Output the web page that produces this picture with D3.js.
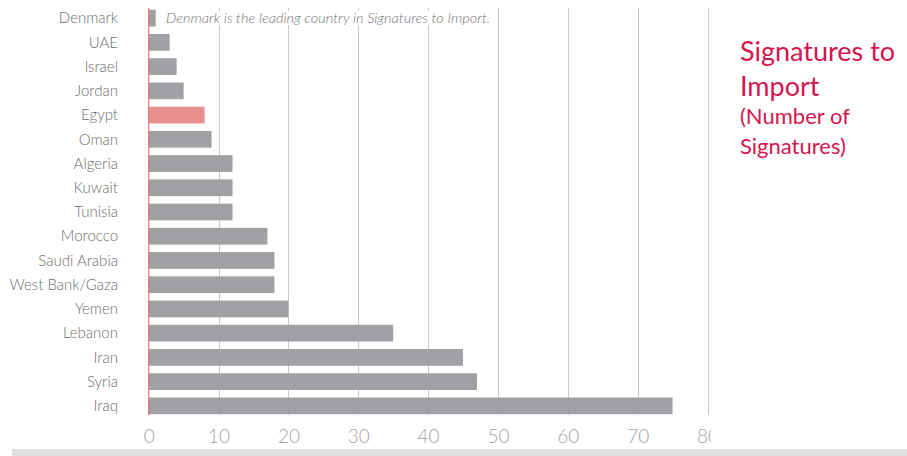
<!DOCTYPE html>
<html><head><meta charset="utf-8">
<script src="https://cdn.jsdelivr.net/npm/d3@7"></script>
<style>
html,body{margin:0;padding:0;background:#fff;}
svg{display:block;font-family:Lato,"Open Sans",sans-serif;}
</style></head>
<body>
<svg id="chart" width="907" height="456"></svg>
<script>
const categories = ["Denmark","UAE","Israel","Jordan","Egypt","Oman","Algeria","Kuwait","Tunisia","Morocco","Saudi Arabia","West Bank/Gaza","Yemen","Lebanon","Iran","Syria","Iraq"];
const values = [1,3,4,5,8,9,12,12,12,17,18,18,20,35,45,47,75];
const highlight = ["Egypt"];
const tickValues = [0,10,20,30,40,50,60,70,80];
const titleLines = ["Signatures to","Import"];
const subtitleLines = ["(Number of","Signatures)"];
const note = "Denmark is the leading country in Signatures to Import.";

const svg = d3.select("#chart");
const x = d3.scaleLinear().domain([0,80]).range([148.7,707.5]);
const y = d3.scaleBand().domain(categories).range([5.9,418.1]).paddingInner(0.31).paddingOuter(0.16);

// bottom band
svg.append("rect").attr("x",12).attr("y",449).attr("width",895).attr("height",7).attr("fill","#dfe0e1");

const clip = svg.append("defs").append("clipPath").attr("id","c");
clip.append("rect").attr("x",0).attr("y",0).attr("width",711).attr("height",456);
const g = svg.append("g").attr("clip-path","url(#c)");

// grid
g.selectAll("line.grid").data(tickValues.filter(d=>d>0)).join("line")
 .attr("x1",d=>Math.round(x(d))+0.5).attr("x2",d=>Math.round(x(d))+0.5)
 .attr("y1",8).attr("y2",415).attr("stroke","#c8c9cb").attr("stroke-width",1);

// bars
g.selectAll("rect.bar").data(categories).join("rect")
 .attr("x",x(0)).attr("y",d=>y(d)).attr("height",y.bandwidth())
 .attr("width",(d,i)=>x(values[i])-x(0))
 .attr("fill",d=>highlight.includes(d)?"#e8908d":"#a0a1a5");

// note background + text
const ny = y("Denmark")+y.bandwidth()/2;
g.append("rect").attr("x",162).attr("y",ny-7).attr("width",336).attr("height",14).attr("fill","#fff");
g.append("text").attr("x",166).attr("y",ny).attr("dy","0.35em")
 .attr("font-size",14.5).attr("font-style","italic").attr("font-weight",300).attr("fill","#737477").text(note);

// zero line
g.append("line").attr("x1",x(0)).attr("x2",x(0)).attr("y1",8).attr("y2",415)
 .attr("stroke","#e8625e").attr("stroke-width",1);

// category labels
svg.selectAll("text.cat").data(categories).join("text")
 .attr("x",118).attr("y",d=>y(d)+y.bandwidth()/2).attr("dy","0.35em")
 .attr("text-anchor","end").attr("font-size",15).attr("font-weight",300)
 .attr("fill","#6d6e71").text(d=>d);

// x axis tick labels
const ax = g.append("g").attr("transform","translate(0,422)")
 .call(d3.axisBottom(x).tickValues(tickValues).tickSize(0).tickPadding(8).tickFormat(d3.format("d")));
ax.select(".domain").remove();
ax.selectAll("text").attr("font-size",19).attr("font-weight",300).attr("fill","#a3a4a7")
 .attr("font-family","Lato,'Open Sans',sans-serif");

// title
const tcol = "#d4164e";
svg.selectAll("text.title").data(titleLines).join("text")
 .attr("x",740).attr("y",(d,i)=>61+i*35).attr("font-size",27).attr("fill",tcol).text(d=>d);
svg.selectAll("text.sub").data(subtitleLines).join("text")
 .attr("x",740).attr("y",(d,i)=>124+i*30).attr("font-size",22).attr("fill",tcol).text(d=>d);
</script>
</body></html>
